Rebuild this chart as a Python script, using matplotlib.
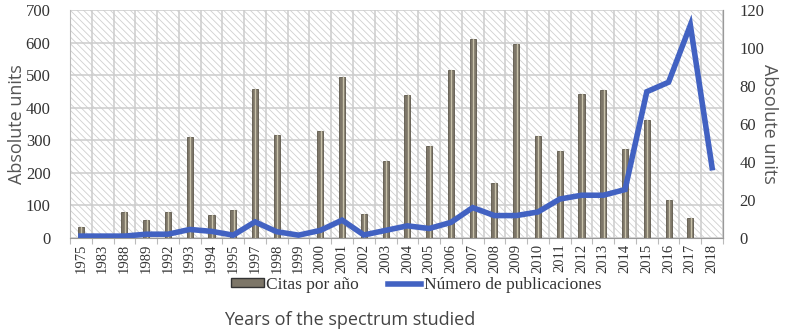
import numpy as np
import matplotlib.pyplot as plt
from matplotlib.patches import Rectangle, Patch
from matplotlib.lines import Line2D

years = ['1975', '1983', '1988', '1989', '1992', '1993', '1994', '1995', '1997', '1998',
         '1999', '2000', '2001', '2002', '2003', '2004', '2005', '2006', '2007', '2008',
         '2009', '2010', '2011', '2012', '2013', '2014', '2015', '2016', '2017', '2018']
citas = [33, 0, 80, 55, 80, 310, 70, 85, 456, 315,
         0, 327, 493, 74, 237, 440, 281, 517, 612, 168,
         595, 312, 268, 441, 453, 274, 361, 117, 60, 0]
publicaciones = [1, 1, 1, 2, 2, 4.5, 3.5, 1.5, 8.5, 3.3,
                 1.5, 4, 9.4, 1.6, 4, 6.4, 5, 8.2, 16, 11.8,
                 11.8, 13.7, 20.5, 22.5, 22.5, 25.5, 77, 82, 112, 37]

serif = 'Liberation Serif'
sans = 'Open Sans'
plt.rcParams['hatch.linewidth'] = 0.6
plt.rcParams['hatch.color'] = '#d0d0d0'

fig = plt.figure(figsize=(7.87, 3.3), dpi=100)
ax = fig.add_axes([70 / 787, 1 - 238 / 330, 653 / 787, 228 / 330])
x = np.arange(len(years))

ax.set_xlim(-0.5, len(years) - 0.5)
ax.set_ylim(0, 700)
ax.add_patch(Rectangle((-0.5, 0), len(years), 700, facecolor='white',
                       edgecolor='#d0d0d0', hatch='\\\\\\\\\\', linewidth=0, zorder=0))
ax.set_yticks(np.arange(0, 701, 100))
ax.set_xticks(np.arange(-0.5, len(years), 1), minor=False)
ax.set_xticklabels([])
ax.set_xticks(x, minor=True)
ax.set_xticklabels(years, minor=True, rotation=90, fontfamily=serif, fontsize=10.5, color='#333333')
ax.tick_params(axis='x', which='minor', length=0, pad=4)
ax.tick_params(axis='x', which='major', length=4, color='#bbbbbb')
ax.grid(True, which='major', color='#cccccc', linewidth=1.1, zorder=1)
ax.set_axisbelow(True)

ax.bar(x, citas, width=0.28, color='#7d7668', edgecolor='#5c5649', linewidth=0.6, zorder=3)
for xi, v in zip(x, citas):
    if v > 0:
        ax.plot([xi + 0.02, xi + 0.02], [0, v], color='#c8c2aa', linewidth=1.0, zorder=4)

ax.spines['top'].set_visible(False)
ax.spines['left'].set_color('#bbbbbb')
ax.spines['bottom'].set_color('#999999')
ax.spines['right'].set_color('#999999')
ax.tick_params(axis='y', length=0, labelsize=12, labelcolor='#333333', pad=14)
for t in ax.get_yticklabels():
    t.set_fontfamily(serif)

ax2 = ax.twinx()
ax2.set_ylim(0, 120)
ax2.set_yticks(np.arange(0, 121, 20))
ax2.tick_params(axis='y', length=0, labelsize=12, labelcolor='#333333', pad=12)
for t in ax2.get_yticklabels():
    t.set_fontfamily(serif)
ax2.plot(x, publicaciones, color='#4262c2', linewidth=4, solid_joinstyle='miter', zorder=5)
for s in ['top', 'left', 'bottom']:
    ax2.spines[s].set_visible(False)
ax2.spines['right'].set_color('#999999')

# axis titles
fig.text(17 / 787, 1 - 124 / 330, 'Absolute units', rotation=90, ha='center', va='center',
         fontfamily=sans, fontsize=13, color='#555555')
fig.text(769 / 787, 1 - 124 / 330, 'Absolute units', rotation=270, ha='center', va='center',
         fontfamily=sans, fontsize=13, color='#555555')

handles = [Patch(facecolor='#7d7668', edgecolor='#333333', linewidth=1.0),
           Line2D([0], [0], color='#4262c2', linewidth=4)]
fig.legend(handles, ['Citas por año', 'Número de publicaciones'], loc='center',
           bbox_to_anchor=(416 / 787, 1 - 285 / 330), ncol=2, frameon=False,
           prop={'family': serif, 'size': 12.5}, handlelength=1.9, columnspacing=1.7,
           handleheight=0.45, handletextpad=0.15, labelcolor='#333333')
fig.text(350 / 787, 1 - 320 / 330, 'Years of the spectrum studied', ha='center', va='center',
         fontfamily=sans, fontsize=13, color='#444444')

fig.savefig('out.png', dpi=100)
